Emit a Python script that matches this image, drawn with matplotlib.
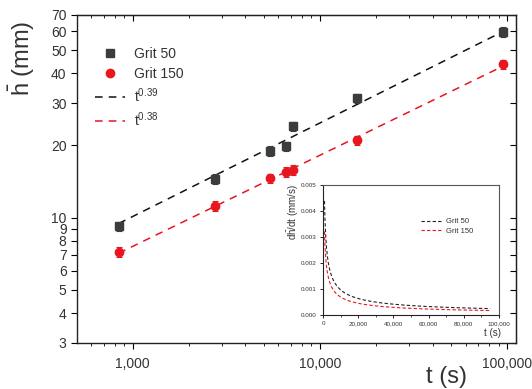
import numpy as np
import matplotlib
matplotlib.use("Agg")
import matplotlib.pyplot as plt
from matplotlib.lines import Line2D
from matplotlib.ticker import FixedLocator, FixedFormatter, NullFormatter, LogLocator

plt.rcParams['font.family'] = ['Liberation Sans', 'DejaVu Sans']
plt.rcParams['mathtext.fontset'] = 'custom'
plt.rcParams['mathtext.rm'] = 'Liberation Sans'
plt.rcParams['mathtext.it'] = 'Liberation Sans:italic'
plt.rcParams['mathtext.bf'] = 'Liberation Sans:bold'

# ---- data ----
t_s = [840, 2750, 5400, 6600, 7200, 15800, 95000]
grit50 = [9.2, 14.5, 19.0, 19.8, 24.0, 31.5, 59.5]
grit150 = [7.2, 11.2, 14.6, 15.5, 15.8, 21.0, 43.6]
err_frac = 0.045
exp50 = 0.39
exp150 = 0.38
ytick_vals = [3, 4, 5, 6, 7, 8, 9, 10, 20, 30, 40, 50, 60, 70]
xtick_vals = [1000, 10000, 100000]
xtick_labels = ["1,000", "10,000", "100,000"]
inset_xticks = [0, 20000, 40000, 60000, 80000, 100000]
inset_xlabels = ["0", "20,000", "40,000", "60,000", "80,000", "100,000"]
inset_yticks = [0.000, 0.001, 0.002, 0.003, 0.004, 0.005]

t = np.array(t_s, dtype=float)
g50 = np.array(grit50)
g150 = np.array(grit150)

def fit_amp(tv, yv, p):
    return np.exp(np.mean(np.log(yv) - p * np.log(tv)))

a50 = fit_amp(t, g50, exp50)
a150 = fit_amp(t, g150, exp150)
tf = np.logspace(np.log10(t.min()), np.log10(t.max()), 200)

BLACK = '#3c3c3c'
RED = '#e8161e'
TXT = '#333333'

fig = plt.figure(figsize=(5.32, 3.89), dpi=100)
ax = fig.add_axes([77/532, 1 - 343/389, (516-77)/532, (343-15)/389])
ax.set_xscale('log')
ax.set_yscale('log')
ax.set_xlim(504, 111500)
ax.set_ylim(3, 70)

ax.errorbar(t, g50, yerr=g50*err_frac, fmt='s', color=BLACK, ms=5.5, capsize=2.5,
            elinewidth=0.8, capthick=0.8, zorder=3)
ax.errorbar(t, g150, yerr=g150*err_frac, fmt='o', color=RED, ms=6, capsize=2.5,
            elinewidth=0.8, capthick=0.8, zorder=3)
ax.plot(tf, a50*tf**exp50, ls=(0, (5, 4)), color='#111111', lw=1.1, zorder=2)
ax.plot(tf, a150*tf**exp150, ls=(0, (5, 4)), color=RED, lw=1.1, zorder=2)

ax.yaxis.set_major_locator(FixedLocator(ytick_vals))
ax.yaxis.set_major_formatter(FixedFormatter([str(v) for v in ytick_vals]))
ax.yaxis.set_minor_locator(FixedLocator([]))
ax.xaxis.set_major_locator(FixedLocator(xtick_vals))
ax.xaxis.set_major_formatter(FixedFormatter(xtick_labels))
ax.xaxis.set_minor_locator(LogLocator(base=10, subs=np.arange(2, 10)))
ax.xaxis.set_minor_formatter(NullFormatter())
ax.tick_params(axis='both', which='major', direction='out', length=4, width=0.8,
               labelsize=10, labelcolor=TXT, top=False, right=False)
ax.tick_params(axis='x', which='minor', direction='out', length=2.5, width=0.6, top=False)
ax.tick_params(axis='x', pad=6)
for s in ax.spines.values():
    s.set_linewidth(1.0)
    s.set_color('#222222')

secx = ax.secondary_xaxis('top')
secx.xaxis.set_major_locator(FixedLocator(xtick_vals))
secx.xaxis.set_minor_locator(LogLocator(base=10, subs=np.arange(2, 10)))
secx.tick_params(which='major', direction='in', length=4, width=0.8, labeltop=False)
secx.tick_params(which='minor', direction='in', length=2.5, width=0.6)
secx.xaxis.set_major_formatter(NullFormatter())
secx.xaxis.set_minor_formatter(NullFormatter())
secy = ax.secondary_yaxis('right')
secy.yaxis.set_major_locator(FixedLocator(ytick_vals))
secy.yaxis.set_minor_locator(FixedLocator([]))
secy.tick_params(which='major', direction='in', length=4, width=0.8, labelright=False)
secy.yaxis.set_major_formatter(NullFormatter())

fig.text(22/532, 1 - 58/389, r'$\bar{\mathrm{h}}$ (mm)', rotation=90, ha='center', va='center',
         fontsize=17, color=TXT)
fig.text(447/532, 1 - 377/389, 't (s)', ha='center', va='center', fontsize=17, color=TXT)

handles = [
    Line2D([], [], ls='none', marker='s', color=BLACK, ms=5.5),
    Line2D([], [], ls='none', marker='o', color=RED, ms=6),
    Line2D([], [], ls=(0, (5, 4)), color='#111111', lw=1.1),
    Line2D([], [], ls=(0, (5, 4)), color=RED, lw=1.1),
]
labels = ['Grit 50', 'Grit 150', r'$\mathrm{t}^{0.39}$', r'$\mathrm{t}^{0.38}$']
ax.legend(handles, labels, loc='upper left', bbox_to_anchor=(0.012, 0.94), frameon=False,
          fontsize=10, handlelength=2.2, handletextpad=0.6, labelspacing=0.4,
          labelcolor=TXT)

# ---- inset ----
ia = fig.add_axes([323/532, 1 - 315/389, 176/532, 130/389])
ti = np.linspace(t.min(), t.max(), 400)
ia.plot(ti, a50*exp50*ti**(exp50-1), ls=(0, (3, 2)), color='#222222', lw=0.8, label='Grit 50')
ia.plot(ti, a150*exp150*ti**(exp150-1), ls=(0, (3, 2)), color=RED, lw=0.8, label='Grit 150')
ia.set_xlim(0, 100000)
ia.set_ylim(0, 0.005)
ia.set_xticks(inset_xticks)
ia.set_xticklabels(inset_xlabels)
ia.set_xticks(np.arange(10000, 100000, 20000), minor=True)
ia.set_yticks(inset_yticks)
ia.set_yticklabels([f'{v:.3f}' for v in inset_yticks])
ia.tick_params(axis='both', which='major', direction='out', length=2.5, width=0.6,
               labelsize=4.5, labelcolor=TXT, pad=2)
ia.tick_params(axis='x', which='minor', direction='out', length=1.5, width=0.5)
for k, s in ia.spines.items():
    s.set_linewidth(0.8)
    s.set_color('#222222' if k in ('left', 'bottom') else '#555555')
ia.legend(loc='upper left', bbox_to_anchor=(0.52, 0.80), frameon=False, fontsize=5.5,
          handlelength=2.6, handletextpad=0.6, labelspacing=0.3, labelcolor=TXT)
fig.text(293/532, 1 - 212/389, r'd$\bar{\mathrm{h}}$/dt (mm/s)', rotation=90, ha='center',
         va='center', fontsize=7, color=TXT)
fig.text(492/532, 1 - 333/389, 't (s)', ha='center', va='center', fontsize=7, color=TXT)

fig.savefig('out.png', dpi=100)
